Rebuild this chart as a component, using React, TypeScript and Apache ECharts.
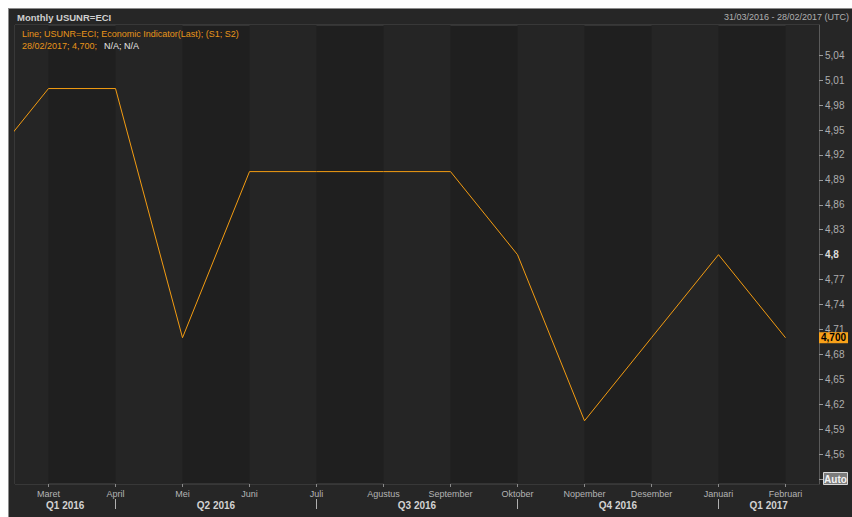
import React, { useEffect, useRef } from "react";
import * as echarts from "echarts";

// Month categories (end-of-month observations, 31/03/2016 .. 28/02/2017)
const months = [
  "Maret", "April", "Mei", "Juni", "Juli", "Agustus",
  "September", "Oktober", "Nopember", "Desember", "Januari", "Februari",
];
// Position of each observation on the month axis; -1 = Februari 2016 (just left of the window)
const monthIndex = [-1, 0, 1, 2, 3, 4, 5, 6, 7, 8, 9, 10, 11];
// USUNR=ECI unemployment rate (%)
const unemployment = [4.9, 5.0, 5.0, 4.7, 4.9, 4.9, 4.9, 4.9, 4.8, 4.6, 4.7, 4.8, 4.7];
const lastValue = 4.7;
const lastValueText = "4,700";

// Quarter row
const quarterLabels = ["Q1 2016", "Q2 2016", "Q3 2016", "Q4 2016", "Q1 2017"];
const quarterStarts = [1, 4, 7, 10]; // month index where a new quarter begins (April, Juli, Oktober, Januari)

// Y axis tick values
const yTickValues = [4.53, 4.56, 4.59, 4.62, 4.65, 4.68, 4.71, 4.74, 4.77, 4.8, 4.83, 4.86, 4.89, 4.92, 4.95, 4.98, 5.01, 5.04];
const yLabelValues = yTickValues.filter((v) => v > 4.54);

const X_MIN = -0.5;
const X_MAX = 11.5;
const Y_MIN = 4.5239;
const Y_MAX = 5.0765;

const FONT = "'Liberation Sans', Arial, sans-serif";

export default function App() {
  const ref = useRef<HTMLDivElement>(null);

  useEffect(() => {
    if (!ref.current) return;
    const chart = echarts.init(ref.current, null, { renderer: "svg" });

    const monthPos = months.map((_, i) => i);
    const qEdges = [X_MIN, ...quarterStarts, X_MAX];
    const quarterCenters = quarterLabels.map((_, i) => (qEdges[i] + qEdges[i + 1]) / 2);

    // alternating shaded month bands
    const bands: any[] = [];
    for (let i = 0; i <= months.length; i += 2) {
      bands.push([
        { xAxis: Math.max(X_MIN, i - 1) },
        { xAxis: Math.min(X_MAX, i) },
      ]);
    }

    const fmtY = (v: number) => {
      const s = String(Math.round(v * 100) / 100).replace(".", ",");
      return Math.abs(v - 4.8) < 1e-6 ? `{b|${s}}` : s;
    };

    chart.setOption({
      animation: false,
      backgroundColor: "transparent",
      grid: {
        left: 6,
        top: 16,
        right: 33,
        bottom: 33,
        show: true,
        backgroundColor: "#1f1f1f",
        borderColor: "#4a4a4a",
        borderWidth: 1,
      },
      xAxis: [
        {
          type: "value",
          min: X_MIN,
          max: X_MAX,
          position: "bottom",
          splitLine: { show: false },
          axisLine: { show: false, onZero: false },
          axisTick: {
            show: true,
            customValues: monthPos,
            length: 3,
            lineStyle: { color: "#8a8a8a" },
          },
          axisLabel: {
            customValues: monthPos,
            formatter: (v: number) => months[Math.round(v)] ?? "",
            color: "#b4b4b4",
            fontSize: 9,
            fontFamily: FONT,
            margin: 5,
          },
        },
        {
          type: "value",
          min: X_MIN,
          max: X_MAX,
          position: "bottom",
          offset: 15,
          splitLine: { show: false },
          axisLine: { show: false, onZero: false },
          axisTick: {
            show: true,
            customValues: quarterStarts,
            length: 10,
            lineStyle: { color: "#b0b0b0" },
          },
          axisLabel: {
            customValues: quarterCenters,
            formatter: (v: number) => {
              const i = quarterCenters.findIndex((c) => Math.abs(c - v) < 1e-6);
              return i >= 0 ? quarterLabels[i] : "";
            },
            color: "#d2d2d2",
            fontWeight: "bold",
            fontSize: 10,
            fontFamily: FONT,
            margin: 1,
          },
        },
      ],
      yAxis: {
        type: "value",
        position: "right",
        min: Y_MIN,
        max: Y_MAX,
        splitLine: { show: false },
        axisLine: { show: true, onZero: false, lineStyle: { color: "#5a5a5a" } },
        axisTick: {
          show: true,
          customValues: yTickValues,
          length: 4,
          lineStyle: { color: "#9a9a9a" },
        },
        axisLabel: {
          customValues: yLabelValues,
          formatter: fmtY,
          color: "#aeaeae",
          fontSize: 10,
          fontFamily: FONT,
          margin: 6,
          rich: {
            b: { color: "#dcdcdc", fontWeight: "bold", fontSize: 10, fontFamily: FONT },
          },
        },
      },
      series: [
        {
          type: "line",
          data: monthIndex.map((x, i) => [x, unemployment[i]]),
          showSymbol: false,
          clip: true,
          lineStyle: { color: "#f39c12", width: 1 },
          itemStyle: { color: "#f39c12" },
          markArea: {
            silent: true,
            itemStyle: { color: "#252525" },
            data: bands,
          },
          markLine: {
            silent: true,
            symbol: ["none", "none"],
            lineStyle: { color: "rgba(0,0,0,0)", width: 0, type: "solid" },
            data: [{ yAxis: lastValue }],
            label: {
              show: true,
              position: "end",
              distance: 0,
              formatter: lastValueText,
              backgroundColor: "#f7a11a",
              color: "#000000",
              opacity: 1,
              fontWeight: "bold",
              fontSize: 10,
              fontFamily: FONT,
              padding: [1, 2, 0, 2],
            },
          },
        },
      ],
      graphic: {
        elements: [
          {
            type: "text",
            z: 100,
            x: 8,
            y: 8,
            style: {
              text: "Monthly USUNR=ECI",
              fill: "#cfcfcf",
              font: `bold 9.5px ${FONT}`,
              verticalAlign: "middle",
            },
          },
          {
            type: "text",
            z: 100,
            x: 840,
            y: 8,
            style: {
              text: "31/03/2016 - 28/02/2017 (UTC)",
              fill: "#b0b0b0",
              font: `9px ${FONT}`,
              align: "right",
              verticalAlign: "middle",
            },
          },
          {
            type: "text",
            z: 100,
            x: 13,
            y: 25,
            style: {
              text: "Line; USUNR=ECI; Economic Indicator(Last); (S1; S2)",
              fill: "#e8951a",
              font: `9px ${FONT}`,
              verticalAlign: "middle",
            },
          },
          {
            type: "text",
            z: 100,
            x: 13,
            y: 37,
            style: {
              text: "28/02/2017; 4,700;",
              fill: "#e8951a",
              font: `9px ${FONT}`,
              verticalAlign: "middle",
            },
          },
          {
            type: "text",
            z: 100,
            x: 95,
            y: 37,
            style: {
              text: "N/A; N/A",
              fill: "#e6e6e6",
              font: `9px ${FONT}`,
              verticalAlign: "middle",
            },
          },
          {
            type: "rect",
            z: 100,
            shape: { x: 814.5, y: 463.5, width: 24, height: 12 },
            style: { fill: "#7c7c7c", stroke: "#d8d8d8", lineWidth: 1 },
          },
          {
            type: "text",
            z: 101,
            x: 826.5,
            y: 470,
            style: {
              text: "Auto",
              fill: "#f2f2f2",
              font: `bold 10px ${FONT}`,
              align: "center",
              verticalAlign: "middle",
            },
          },
        ],
      },
    });

    return () => chart.dispose();
  }, []);

  return (
    <div
      style={{
        position: "absolute",
        left: 0,
        top: 0,
        width: 852,
        height: 517,
        background: "#ffffff",
        overflow: "hidden",
      }}
    >
      <div
        style={{
          position: "absolute",
          left: 8,
          top: 8,
          width: 844,
          height: 509,
          boxSizing: "border-box",
          borderLeft: "1px solid #8c8c8c",
          borderTop: "1px solid #8c8c8c",
          background: "#262626",
        }}
      >
        <div ref={ref} style={{ width: 843, height: 508 }} />
      </div>
    </div>
  );
}
